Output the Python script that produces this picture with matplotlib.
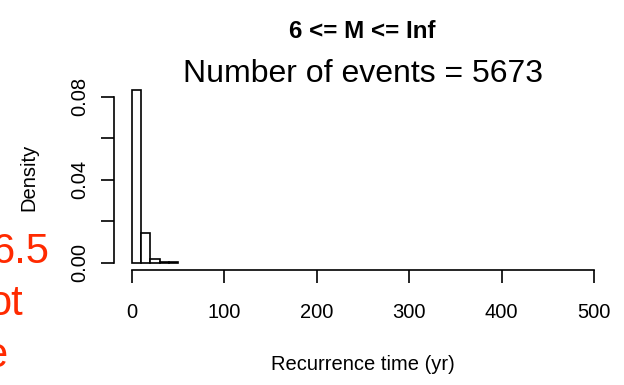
import numpy as np
import matplotlib.pyplot as plt

plt.rcParams['font.family'] = ['Liberation Sans', 'DejaVu Sans']

# histogram of recurrence times (density, bin width 10 yr)
bin_left = [0, 10, 20, 30, 40]
density = [0.0833, 0.0145, 0.0019, 0.0002, 0.0001]
bin_width = 10

x_ticks = [0, 100, 200, 300, 400, 500]
y_ticks = [0.00, 0.02, 0.04, 0.06, 0.08]
y_tick_labels = ['0.00', '', '0.04', '', '0.08']

title_main = '6 <= M <= Inf'
title_sub = 'Number of events = 5673'
red_lines = ['6.5', 'ot', 'e']

W, H = 624, 385
fig = plt.figure(figsize=(W / 100, H / 100), dpi=100)

# plot region in pixels (R style, 4% padding)
x0, x1, ytop, ybot = 113.5, 612.5, 83, 269.5
ax = fig.add_axes([x0 / W, 1 - ybot / H, (x1 - x0) / W, (ybot - ytop) / H])

ax.bar(bin_left, density, width=bin_width, align='edge',
       facecolor='white', edgecolor='black', linewidth=1.2)

ax.set_xlim(-20, 520)
ymax = max(density)
ax.set_ylim(-0.04 * ymax, 1.04 * ymax)

for s in ['top', 'right']:
    ax.spines[s].set_visible(False)
for s in ['left', 'bottom']:
    ax.spines[s].set_linewidth(1.2)
ax.spines['bottom'].set_bounds(0, 500)
ax.spines['left'].set_bounds(0, 0.08)

base = 14.5
ax.set_xticks(x_ticks)
ax.set_yticks(y_ticks)
ax.set_yticklabels(y_tick_labels, rotation=90, va='center')
ax.tick_params(direction='out', length=9.4, width=1.2, labelsize=base)
ax.tick_params(axis='x', pad=15)
ax.tick_params(axis='y', pad=8)

fig.text(363 / W, 1 - 370 / H, 'Recurrence time (yr)', ha='center', va='baseline', fontsize=base)
fig.text(28.5 / W, 1 - 177 / H, 'Density', ha='center', va='center', rotation=90, fontsize=base)
fig.text(362 / W, 1 - 38 / H, title_main, ha='center', va='baseline',
         fontsize=base * 1.2, fontweight='bold')
fig.text(363 / W, 1 - 82 / H, title_sub, ha='center', va='baseline', fontsize=23)

for i, t in enumerate(red_lines):
    fig.text([50, 23, 7][i] / W, 1 - (263 + 52 * i) / H, t, ha='right', va='baseline',
             fontsize=30, color='#ff2a00')

fig.savefig('out.png', dpi=100)
